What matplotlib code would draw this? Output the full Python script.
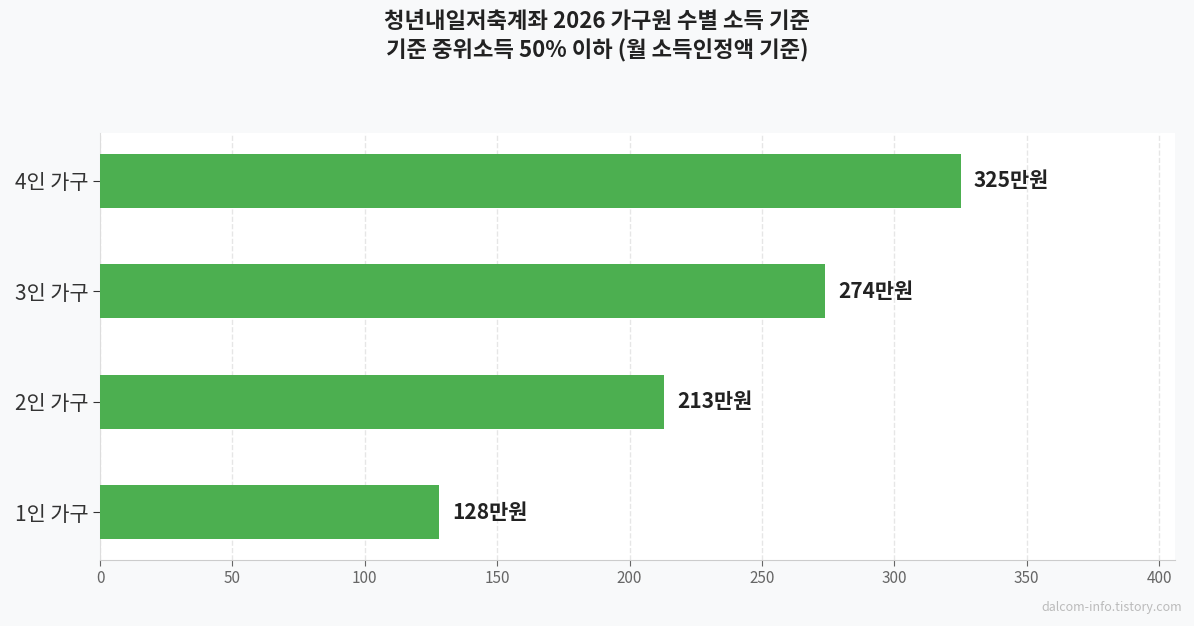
import matplotlib.pyplot as plt

plt.rcParams['font.family'] = ['Noto Sans CJK KR', 'DejaVu Sans']

categories = ['1인 가구', '2인 가구', '3인 가구', '4인 가구']
incomes = [128, 213, 274, 325]
value_labels = ['128만원', '213만원', '274만원', '325만원']

fig = plt.figure(figsize=(11.94, 6.26), dpi=100, facecolor='#f8f9fa')
ax = fig.add_axes([100 / 1194, 1 - 560 / 626, 1075 / 1194, 427 / 626])
ax.set_facecolor('white')

ax.barh(categories, incomes, height=0.49, color='#4caf50', zorder=3)
for i, (v, lab) in enumerate(zip(incomes, value_labels)):
    ax.text(v + 5, i, lab, va='center', ha='left', fontsize=15, fontweight='bold', color='#222222')

ax.set_xlim(0, 406)
ax.set_ylim(-0.435, 3.435)
ax.set_xticks(range(0, 401, 50))
ax.grid(axis='x', linestyle='--', color='#e6e6e6', linewidth=1, zorder=0)
ax.tick_params(axis='x', labelsize=11, colors='#666666', length=4)
ax.tick_params(axis='y', labelsize=15, labelcolor='#333333', length=5, color='#333333')
for s in ['top', 'right']:
    ax.spines[s].set_visible(False)
ax.spines['left'].set_color('#dddddd')
ax.spines['bottom'].set_color('#cccccc')

fig.text(0.5, 1 - 36 / 626, '청년내일저축계좌 2026 가구원 수별 소득 기준\n기준 중위소득 50% 이하 (월 소득인정액 기준)',
         ha='center', va='center', fontsize=16, fontweight='bold', color='#222222', linespacing=1.35)
fig.text(1182 / 1194, 1 - 607 / 626, 'dalcom-info.tistory.com', ha='right', va='center',
         fontsize=9, color='#bbbbbb')

fig.savefig('out.png', dpi=100, facecolor=fig.get_facecolor())
